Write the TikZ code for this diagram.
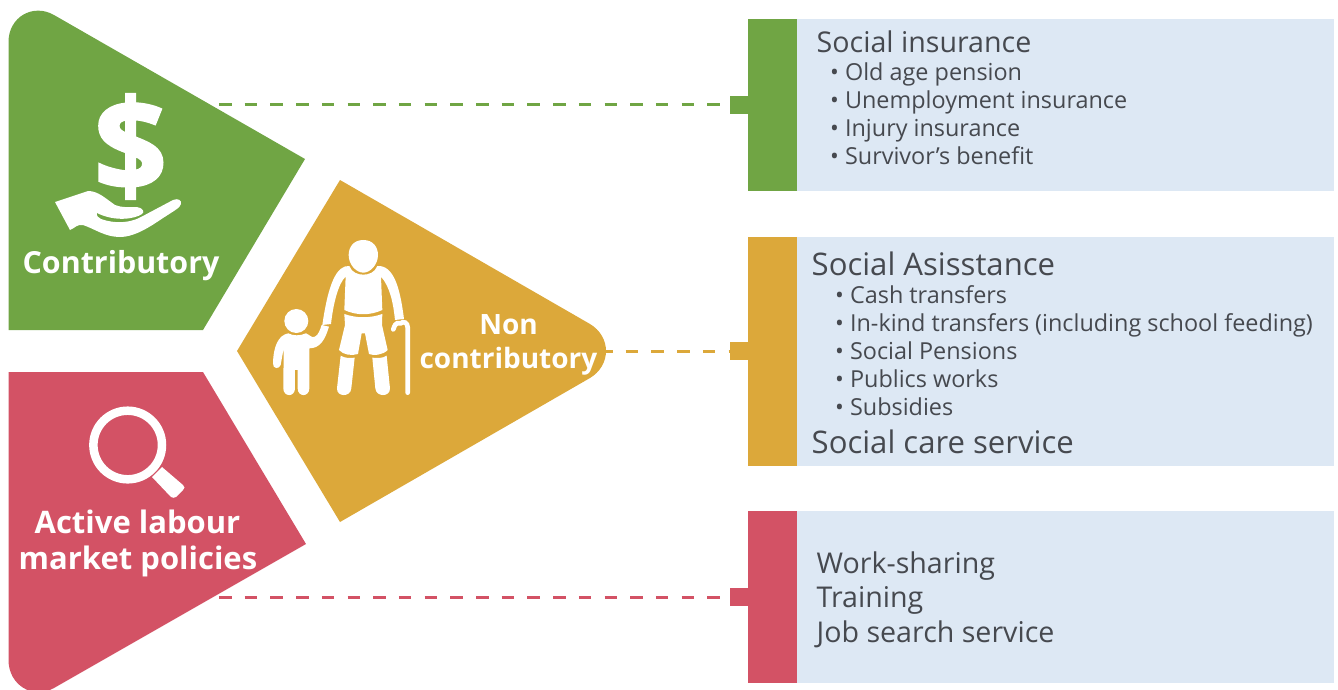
\documentclass[tikz,border=0pt]{standalone}
\usepackage{fontspec}
\setmainfont{Open Sans}
\newfontfamily\heavy[BoldFeatures={FakeBold=2}]{Open Sans}
\definecolor{cgreen}{HTML}{70A544}
\definecolor{cgold}{HTML}{DCA83A}
\definecolor{cred}{HTML}{D35265}
\definecolor{cpale}{HTML}{DDE8F4}
\definecolor{ctext}{HTML}{46494F}
\tikzset{
  panel/.style={fill=cpale,draw=none,rectangle,inner sep=0pt,anchor=north west,minimum width=537pt},
  bar/.style={draw=none,rectangle,inner sep=0pt,anchor=north west,minimum width=49pt},
  nub/.style={draw=none,rectangle,inner sep=0pt,anchor=north west,minimum width=18pt,minimum height=18pt},
  link/.style={line width=2.2pt,dash pattern=on 12.5pt off 13.2pt},
  head/.style={anchor=base west,inner sep=0pt,text=ctext,font=\fontsize{28.6}{30}\selectfont},
  headb/.style={anchor=base west,inner sep=0pt,text=ctext,font=\fontsize{31.1}{32}\selectfont},
  item/.style={anchor=base west,inner sep=0pt,text=ctext,font=\fontsize{23.4}{26}\selectfont},
  lab/.style={anchor=base,inner sep=0pt,text=white,font=\bfseries\fontsize{31}{32}\selectfont},
  labs/.style={lab,font=\bfseries\fontsize{28}{32}\selectfont},
  labm/.style={lab,font=\bfseries\fontsize{30.4}{32}\selectfont},
  icon/.style={fill=white,draw=none}
}
\begin{document}
\begin{tikzpicture}[x=1pt,y=-1pt]
\useasboundingbox (0,0) rectangle (1338,689);
\coordinate (c1) at (219,104.5);
\coordinate (c2) at (600,351.5);
\coordinate (c3) at (219,597.5);
% panels
\node[panel,minimum height=172pt] (p1) at (797,19) {};
\node[panel,minimum height=229pt] (p2) at (797,237) {};
\node[panel,minimum height=172pt] (p3) at (797,511) {};
\node[bar,fill=cgreen,minimum height=172pt] (b1) at (748,19) {};
\node[bar,fill=cgold,minimum height=229pt] (b2) at (748,237) {};
\node[bar,fill=cred,minimum height=172pt] (b3) at (748,511) {};
\node[nub,fill=cgreen] (n1) at (730,96) {};
\node[nub,fill=cgold] (n2) at (730,342) {};
\node[nub,fill=cred] (n3) at (730,588) {};
% connectors
\draw[link,cgreen] (c1) -- (n1.west |- c1);
\draw[link,cgold] (c2) -- (n2.west |- c2);
\draw[link,cred] (c3) -- (n3.west |- c3);
% pentagons
\fill[cgreen] (8.5,330) -- (8.5,42) .. controls (8.5,17) and (33,3) .. (54,15) -- (305,159) -- (203,330) -- cycle;
\fill[cred] (8.5,372) -- (203,372) -- (306,544) -- (54,688) .. controls (33,700) and (8.5,685) .. (8.5,660) -- cycle;
\fill[cgold] (340,180) -- (590,324) .. controls (600,330) and (606,340) .. (606,351) .. controls (606,362) and (600,372) .. (590,378) -- (340,522) -- (237,351) -- cycle;
% dollar and hand
\node[inner sep=0pt,text=white,font=\heavy\bfseries\fontsize{128}{130}\selectfont] (dollar) at (130.5,146.5) {\$};
\fill[icon] (55,202) -- (88,191) .. controls (98,191) and (105,198) .. (115,205) .. controls (122,208) and (130,207) .. (137,207) .. controls (143,208) and (145,212) .. (142,214) .. controls (135,219) and (115,222) .. (97,213) .. controls (96,216) and (99,218) .. (101,219) .. controls (115,224) and (130,223) .. (141,217) -- (173,200) .. controls (178,198) and (182,200) .. (181,204) .. controls (180,208) and (175,210) .. (157,222) .. controls (145,230) and (132,237) .. (120,237) .. controls (105,237) and (95,229) .. (83,225) .. controls (77,224) and (75,228) .. (70,230) -- cycle;
% magnifier
\draw[white,line width=8.5pt] (127.7,445) circle[radius=34.3];
\fill[icon] (152,477) -- (162,467) -- (183,485) .. controls (185,487) and (185,488) .. (183,490) -- (176,497) .. controls (174,498) and (173,498) .. (171,497) -- cycle;
% people (coordinates of a 3x crop at 230,170)
\begin{scope}[shift={(230,170)},x=0.3333pt,y=-0.3333pt]
 \fill[icon] (400,210) .. controls (430,210) and (444,232) .. (444,255) .. controls (444,285) and (420,308) .. (400,308) .. controls (380,308) and (356,285) .. (356,255) .. controls (356,232) and (370,210) .. (400,210) -- cycle;
 \fill[icon] (358,288) .. controls (320,285) and (295,340) .. (277,465) -- (303,462) .. controls (310,400) and (325,340) .. (347,320) -- (343,420) .. controls (380,437) and (420,437) .. (457,420) -- (453,320) .. controls (480,350) and (490,400) .. (495,450) -- (522,447) .. controls (510,350) and (490,285) .. (442,288) .. controls (435,308) and (415,314) .. (400,314) .. controls (385,314) and (365,308) .. (358,288) -- cycle;
 \fill[icon] (343,432) .. controls (380,445) and (420,445) .. (457,432) -- (456,465) -- (473,540) .. controls (460,555) and (430,558) .. (417,552) -- (405,490) -- (395,490) -- (384,552) .. controls (365,558) and (340,555) .. (327,540) -- (345,465) -- cycle;
 \fill[icon] (332,557) .. controls (345,565) and (360,565) .. (374,563) -- (364,655) .. controls (362,682) and (320,682) .. (321,655) -- cycle;
 \fill[icon] (427,563) .. controls (440,565) and (460,565) .. (470,557) -- (480,655) .. controls (481,682) and (438,682) .. (436,655) -- cycle;
 \draw[white,line width=4.7pt,line cap=round] (533,668) -- (533,472) .. controls (533,458) and (520,452) .. (512,460) .. controls (505,462) and (498,452) .. (490,478);
 \fill[icon] (199,453) circle[radius=36];
 \fill[icon] (175,490) .. controls (190,498) and (210,498) .. (228,490) .. controls (240,495) and (245,505) .. (255,500) .. controls (265,495) and (270,480) .. (275,465) -- (297,470) .. controls (285,510) and (270,535) .. (238,535) -- (238,655) .. controls (238,682) and (203,682) .. (203,655) -- (203,600) -- (195,600) -- (195,655) .. controls (195,682) and (160,682) .. (160,655) -- (161,535) -- (152,585) .. controls (148,598) and (128,598) .. (129,580) .. controls (130,530) and (145,495) .. (175,490) -- cycle;
\end{scope}
% labels on shapes
\node[labm] (t1) at (121,273.5) {Contributory};
\node[labs] (t2) at (508.5,334) {Non};
\node[labs] (t3) at (508.5,368) {contributory};
\node[lab] (t4) at (137.5,533) {Active labour};
\node[lab] (t5) at (138,569.5) {market policies};
% panel texts
\node[head] (a0) at (816.5,52) {Social insurance};
\node[item] (a1) at (830,80) {• Old age pension};
\node[item] (a2) at (830,108) {• Unemployment insurance};
\node[item] (a3) at (830,136) {• Injury insurance};
\node[item] (a4) at (830,164) {• Survivor’s benefit};
\node[headb] (d0) at (811.5,275) {Social Asisstance};
\node[item] (d1) at (835,303) {• Cash transfers};
\node[item] (d2) at (835,331) {• In-kind transfers (including school feeding)};
\node[item] (d3) at (835,359) {• Social Pensions};
\node[item] (d4) at (835,387) {• Publics works};
\node[item] (d5) at (835,415) {• Subsidies};
\node[headb] (d6) at (811.5,453) {Social care service};
\node[head] (e1) at (816.5,573) {Work-sharing};
\node[head] (e2) at (816.5,607) {Training};
\node[head] (e3) at (816.5,642) {Job search service};
\end{tikzpicture}
\end{document}
